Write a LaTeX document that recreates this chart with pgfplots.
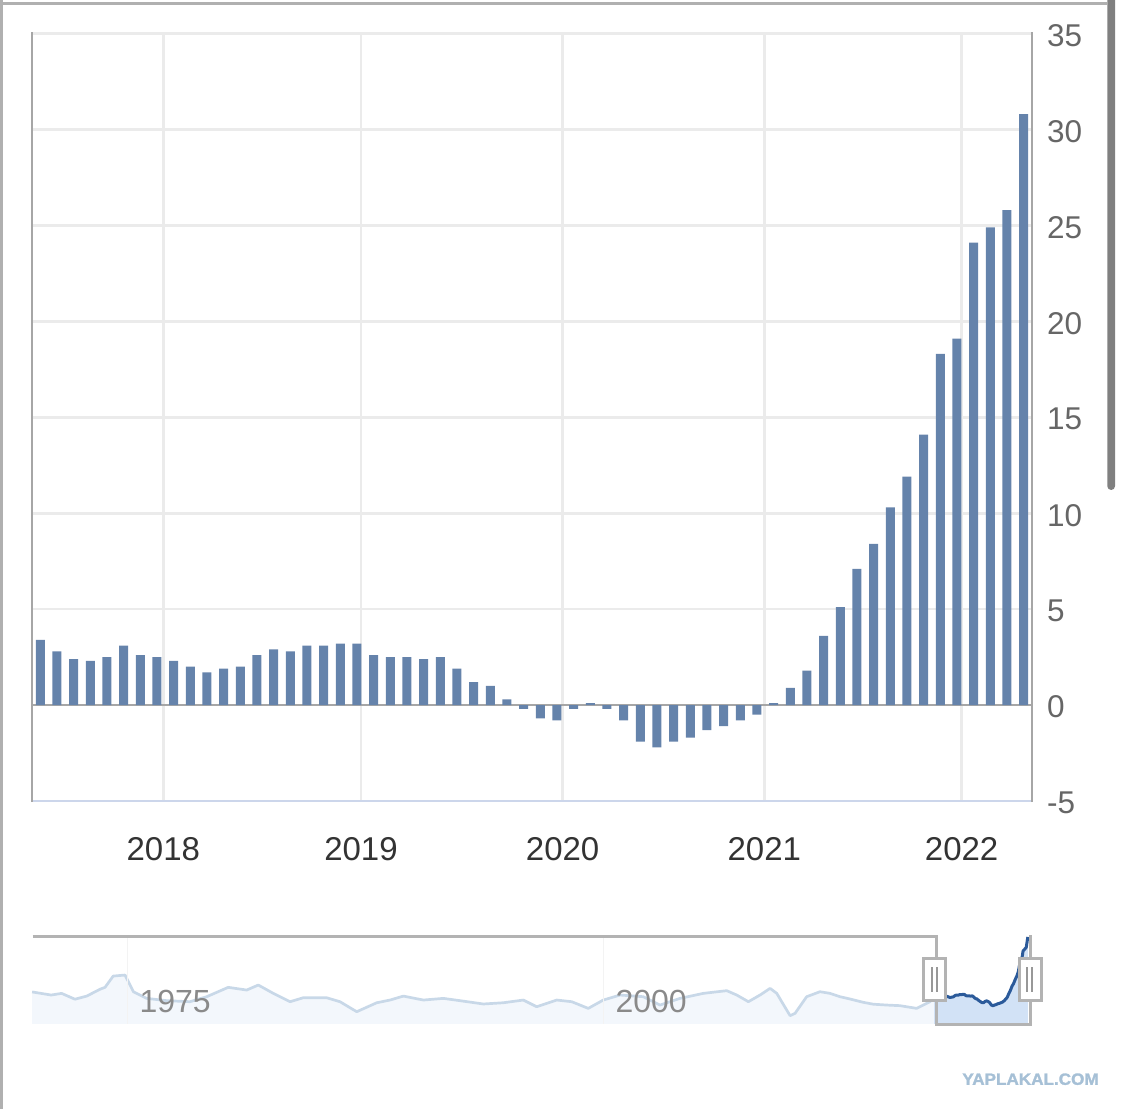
\documentclass[border=0pt]{standalone}
\usepackage{fontspec}
\setmainfont{Liberation Sans}
\newfontfamily\wmfont{Liberation Sans Bold}[FakeBold=1.6]
\usepackage{pgfplots}
\pgfplotsset{compat=1.18}
\usepackage{pgfplotstable}
\definecolor{barblue}{HTML}{6583AB}
\definecolor{gridc}{HTML}{EBEBEB}
\definecolor{axgray}{HTML}{A6A6A6}
\definecolor{botline}{HTML}{CCD6EB}
\definecolor{xlab}{HTML}{333333}
\definecolor{ylab}{HTML}{666666}
\definecolor{navline}{HTML}{C8D8E8}
\definecolor{navfill}{HTML}{F3F7FC}
\definecolor{selfill}{HTML}{D2E2F6}
\definecolor{navdark}{HTML}{2B5A9A}
\definecolor{navout}{HTML}{B3B3B3}
\definecolor{navlab}{HTML}{8A8A8A}
\definecolor{framec}{HTML}{B0B0B0}
\definecolor{scrollc}{HTML}{808080}
\definecolor{wm}{HTML}{A6C0D6}

\pgfplotstableread{
i v
0 3.4
1 2.8
2 2.4
3 2.3
4 2.5
5 3.1
6 2.6
7 2.5
8 2.3
9 2.0
10 1.7
11 1.9
12 2.0
13 2.6
14 2.9
15 2.8
16 3.1
17 3.1
18 3.2
19 3.2
20 2.6
21 2.5
22 2.5
23 2.4
24 2.5
25 1.9
26 1.2
27 1.0
28 0.3
29 -0.2
30 -0.7
31 -0.8
32 -0.2
33 0.1
34 -0.2
35 -0.8
36 -1.9
37 -2.2
38 -1.9
39 -1.7
40 -1.3
41 -1.1
42 -0.8
43 -0.5
44 0.1
45 0.9
46 1.8
47 3.6
48 5.1
49 7.1
50 8.4
51 10.3
52 11.9
53 14.1
54 18.3
55 19.1
56 24.1
57 24.9
58 25.8
59 30.8
}\monthly

\pgfplotstableread{
yr v
1970.00 4.4
1971.00 2.9
1971.55 3.7
1972.25 0.9
1972.87 2.4
1973.57 5.7
1973.83 6.6
1974.26 12.0
1974.88 12.5
1975.32 4.5
1976.02 1.3
1977.07 0.2
1978.29 -0.3
1979.17 2.1
1980.30 6.6
1981.27 5.3
1981.88 7.7
1982.67 3.7
1983.55 -0.3
1984.24 1.6
1985.47 1.6
1986.17 -0.3
1987.05 -5.1
1988.10 -0.8
1988.80 0.5
1989.50 2.4
1990.55 0.5
1991.60 1.3
1992.47 0.2
1993.70 -1.4
1994.75 -0.8
1995.80 0.5
1996.50 -2.7
1997.55 0.5
1998.34 -0.3
1999.21 -3.5
2000.00 0.5
2000.88 2.9
2002.10 2.1
2002.98 -1.9
2004.03 1.3
2005.25 3.7
2006.48 5.0
2007.01 2.9
2007.62 -0.3
2008.23 2.9
2008.76 6.1
2009.11 3.7
2009.81 -7.0
2010.07 -5.9
2010.68 2.1
2011.38 4.5
2011.91 3.7
2012.43 2.1
2012.96 1.0
2013.66 -0.6
2014.18 -1.5
2014.88 -1.9
2015.58 -2.2
2016.46 -3.5
2017.16 -0.3
2017.38 3.4
}\navhist

\begin{document}
\begin{tikzpicture}[x=1pt,y=1pt]
\useasboundingbox (0,0) rectangle (1125,1109);
% outer frame
\fill[framec] (0,0) rectangle (3,1109);
\fill[framec] (0,1104.3) rectangle (1107.3,1107);
% scrollbar
\fill[scrollc, rounded corners=3.8pt] (1107.3,619) rectangle (1115,1120);

\begin{axis}[
  at={(32pt,308pt)}, anchor=south west,
  width=1000pt, height=767.5pt, scale only axis,
  xmin=-0.5, xmax=59.5, ymin=-5, ymax=35,
  axis line style={draw=none},
  major tick length=0pt,
  xtick={7.378,19.24,31.34,43.44,55.28},
  xticklabels={2018,2019,2020,2021,2022},
  ytick={-5,0,5,10,15,20,25,30,35},
  yticklabels={-5,0,5,10,15,20,25,30,35},
  yticklabel pos=right,
  xmajorgrids, ymajorgrids,
  grid style={gridc, line width=2.7pt},
  xticklabel style={font=\fontsize{33}{40}\selectfont, text=xlab, anchor=center, inner sep=0pt, yshift=-48pt},
  yticklabel style={font=\fontsize{31.5}{38}\selectfont, text=ylab, anchor=west, inner sep=0pt, xshift=15pt, yshift=-2pt},
  clip=false,
]
\draw[axgray, line width=2.7pt] (axis cs:-0.5,0) -- (axis cs:59.5,0);
\addplot[ybar, bar width=9pt, fill=barblue, draw=none] table[x=i,y=v]{\monthly};
\draw[botline, line width=2.7pt] (rel axis cs:0,0) -- (rel axis cs:1,0);
\draw[axgray, line width=2.7pt] (rel axis cs:0,-0.0015) -- (rel axis cs:0,1.002);
\draw[axgray, line width=2.7pt] (rel axis cs:1,-0.0015) -- (rel axis cs:1,1.002);
\end{axis}

\begin{axis}[
  at={(32.1pt,85pt)}, anchor=south west,
  width=997.7pt, height=87.5pt, scale only axis,
  xmin=1970, xmax=2022.4, ymin=-11, ymax=31,
  axis on top,
  axis line style={draw=none},
  major tick length=0pt,
  xtick={1975,2000}, xticklabels={1975,2000},
  ytick=\empty,
  xmajorgrids,
  grid style={gridc!60, line width=1pt},
  xticklabel style={font=\fontsize{32}{38}\selectfont, text=navlab, anchor=west, inner sep=0pt, xshift=12pt, yshift=22.3pt},
  clip=false,
]
\addplot[draw=none, fill=navfill] table[x=yr,y=v]{\navhist} -- (axis cs:2017.38,-11) -- (axis cs:1970,-11) -- cycle;
\addplot[navline, line width=2.7pt, line join=round] table[x=yr,y=v]{\navhist};
\addplot[draw=none, fill=selfill] table[x expr=2017.38+\thisrow{i}/12, y=v]{\monthly} -- (axis cs:2022.30,-11) -- (axis cs:2017.38,-11) -- cycle;
\addplot[navdark, line width=3pt, line join=round] table[x expr=2017.38+\thisrow{i}/12, y=v]{\monthly};
\end{axis}

% navigator outline
\draw[navout, line width=3pt] (32.7,172.3) -- (936.7,172.3) -- (936.7,84) -- (1030,84) -- (1030,173.5);
% handles
\filldraw[fill=white, draw=navout, line width=3pt] (923.2,108.2) rectangle (945.8,150.8);
\draw[navout!85!black, line width=2pt] (931.7,117.3) -- (931.7,142.3) (936.7,117.3) -- (936.7,142.3);
\filldraw[fill=white, draw=navout, line width=3pt] (1019.2,108.2) rectangle (1041.2,150.8);
\draw[navout!85!black, line width=2pt] (1027.3,117.3) -- (1027.3,142.3) (1032.3,117.3) -- (1032.3,142.3);
% watermark
\node[text=wm, inner sep=0pt, xscale=1.05, font=\fontsize{16.3}{18}\selectfont\wmfont] at (1030.5,29.8) {YAPLAKAL.COM};
\end{tikzpicture}
\end{document}
